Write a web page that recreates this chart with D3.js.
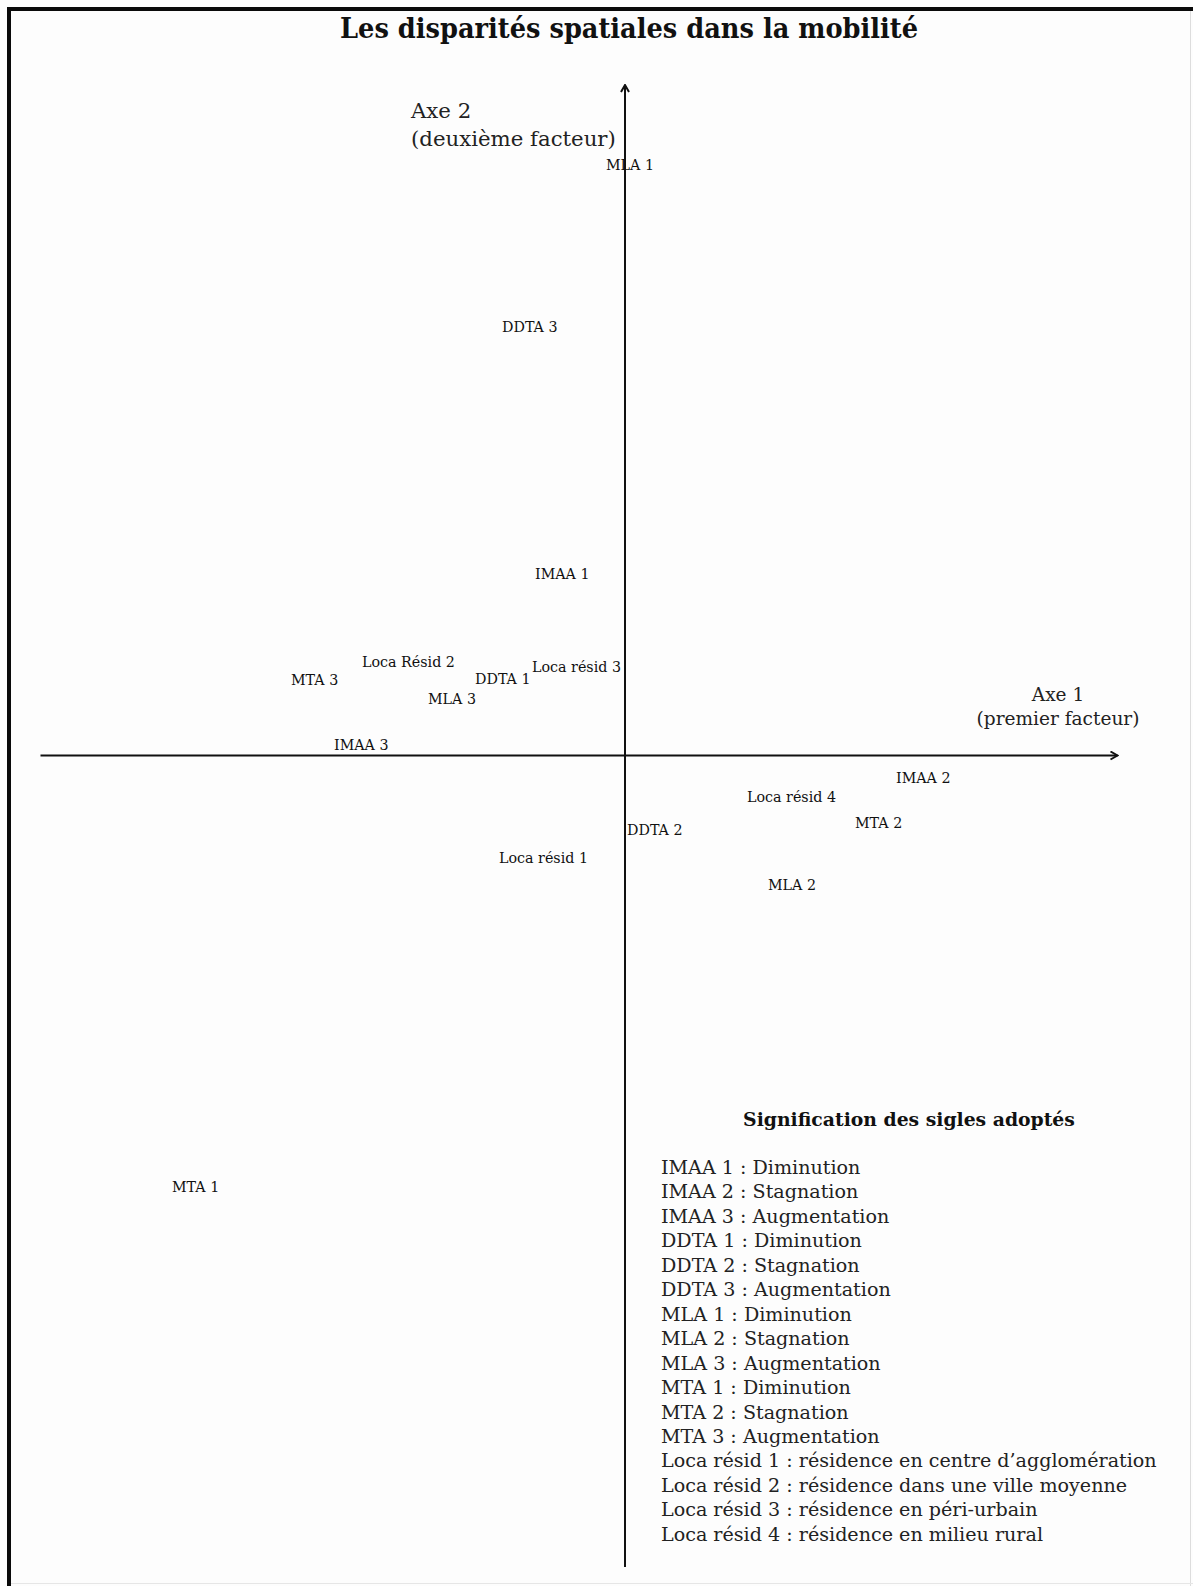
<!DOCTYPE html>
<html><head><meta charset="utf-8">
<script src="https://cdn.jsdelivr.net/npm/d3@7"></script>
<style>
html,body{margin:0;padding:0;background:#fdfdfd;}
svg{display:block;}
</style></head>
<body>
<script>
// ---- data ----
const title = "Les disparités spatiales dans la mobilité";
const labels = ["MLA 1","DDTA 3","IMAA 1","Loca Résid 2","MTA 3","DDTA 1","Loca résid 3","MLA 3","IMAA 3","IMAA 2","Loca résid 4","MTA 2","DDTA 2","Loca résid 1","MLA 2","MTA 1"];
const axis1 = [-0.19,-1.23,-0.90,-2.63,-3.34,-1.50,-0.93,-1.97,-2.91,2.71,1.22,2.30,0.02,-1.26,1.43,-4.53];
const axis2 = [5.90,4.28,1.81,0.93,0.75,0.76,0.88,0.56,0.10,-0.23,-0.42,-0.68,-0.75,-1.03,-1.30,-4.32];
const xDomain = [-5.85, 4.92];
const yDomain = [-8.12, 6.70];
const axis1Title = ["Axe 1","(premier facteur)"];
const axis2Title = ["Axe 2","(deuxième facteur)"];
const legendTitle = "Signification des sigles adoptés";
const legendItems = [
 "IMAA 1 : Diminution","IMAA 2 : Stagnation","IMAA 3 : Augmentation",
 "DDTA 1 : Diminution","DDTA 2 : Stagnation","DDTA 3 : Augmentation",
 "MLA 1 : Diminution","MLA 2 : Stagnation","MLA 3 : Augmentation",
 "MTA 1 : Diminution","MTA 2 : Stagnation","MTA 3 : Augmentation",
 "Loca résid 1 : résidence en centre d’agglomération",
 "Loca résid 2 : résidence dans une ville moyenne",
 "Loca résid 3 : résidence en péri-urbain",
 "Loca résid 4 : résidence en milieu rural"];

const W = 1193, H = 1586;
const serif = "'DejaVu Serif', 'Liberation Serif', serif";
const svg = d3.select("body").append("svg").attr("width", W).attr("height", H);
svg.append("rect").attr("width", W).attr("height", H).attr("fill", "#fdfdfd");

// frame
svg.append("line").attr("x1", 1190.5).attr("x2", 1190.5).attr("y1", 11).attr("y2", H).attr("stroke", "#ddd").attr("stroke-width", 1);
svg.append("line").attr("x1", 11).attr("x2", W).attr("y1", 1583.5).attr("y2", 1583.5).attr("stroke", "#e6e6e6").attr("stroke-width", 1);
svg.append("rect").attr("x", 7).attr("y", 7).attr("width", W - 7).attr("height", 4).attr("fill", "#0a0a0a");
svg.append("rect").attr("x", 7).attr("y", 7).attr("width", 4).attr("height", H - 7).attr("fill", "#0a0a0a");

function fit(sel, target) {
  const n = sel.node();
  const fs = parseFloat(sel.attr("font-size"));
  const w = n.getComputedTextLength();
  sel.attr("font-size", (fs * target / w).toFixed(2));
}

// title
const t = svg.append("text").attr("x", 629).attr("y", 38).attr("text-anchor", "middle")
  .attr("font-family", "'DejaVu Serif Condensed', 'DejaVu Serif', serif").attr("font-weight", "bold")
  .attr("font-size", 24).attr("fill", "#111").text(title);
fit(t, 578);

// scales
const x = d3.scaleLinear().domain(xDomain).range([40, 1117]);
const y = d3.scaleLinear().domain(yDomain).range([1567, 85]);

// arrow marker
const defs = svg.append("defs");
defs.append("marker").attr("id", "arr").attr("viewBox", "0 0 10 10").attr("refX", 9).attr("refY", 5)
  .attr("markerWidth", 10).attr("markerHeight", 10).attr("markerUnits", "userSpaceOnUse").attr("orient", "auto")
  .append("path").attr("d", "M2,1 L9,5 L2,9").attr("fill", "none").attr("stroke", "#111").attr("stroke-width", 2);

// axes (no ticks) via d3 axes
const gx = svg.append("g").attr("transform", `translate(0,${y(0)})`)
  .call(d3.axisBottom(x).tickValues([]).tickSizeOuter(0));
gx.select(".domain").attr("stroke", "#111").attr("stroke-width", 2).attr("marker-end", "url(#arr)");
const gy = svg.append("g").attr("transform", `translate(${x(0)},0)`)
  .call(d3.axisLeft(y).tickValues([]).tickSizeOuter(0));
gy.select(".domain").attr("stroke", "#111").attr("stroke-width", 2).attr("d", `M0,${y(yDomain[0])}V${y(yDomain[1])}`).attr("marker-end", "url(#arr)");

// axis titles
const a2 = svg.append("g").attr("font-family", serif).attr("fill", "#222");
a2.append("text").attr("x", 411).attr("y", 118).attr("font-size", 19).text(axis2Title[0]);
const a2b = a2.append("text").attr("x", 411).attr("y", 146).attr("font-size", 19).text(axis2Title[1]);
fit(a2b, 205);
a2.selectAll("text").attr("font-size", a2b.attr("font-size"));
const a1 = svg.append("g").attr("font-family", serif).attr("fill", "#222").attr("text-anchor", "middle");
a1.append("text").attr("x", 1058).attr("y", 701).attr("font-size", 19).text(axis1Title[0]);
const a1b = a1.append("text").attr("x", 1058).attr("y", 725).attr("font-size", 19).text(axis1Title[1]);
fit(a1b, 163);
a1.selectAll("text").attr("font-size", a1b.attr("font-size"));

// point labels
const pts = labels.map((l, i) => ({l, a: axis1[i], b: axis2[i]}));
const pg = svg.append("g").attr("font-family", serif).attr("fill", "#111");
const pl = pg.selectAll("text").data(pts).join("text")
  .attr("x", d => x(d.a)).attr("y", d => y(d.b) + 5)
  .attr("font-size", 13).text(d => d.l);
// size to match "Loca résid 4" width ~89px
const ref = pl.filter(d => d.l === "Loca résid 4");
fit(ref, 89);
pl.attr("font-size", ref.attr("font-size"));

// legend
const lt = svg.append("text").attr("x", 909).attr("y", 1126).attr("text-anchor", "middle")
  .attr("font-family", serif).attr("font-weight", "bold").attr("font-size", 16).attr("fill", "#111").text(legendTitle);
fit(lt, 332);
const lg = svg.append("g").attr("font-family", serif).attr("fill", "#222");
const li = lg.selectAll("text").data(legendItems).join("text")
  .attr("x", 661).attr("y", (d, i) => 1174 + i * 24.45).attr("font-size", 17).text(d => d);
const lref = li.filter((d, i) => i === 12);
fit(lref, 496);
li.attr("font-size", lref.attr("font-size"));
</script>
</body></html>
